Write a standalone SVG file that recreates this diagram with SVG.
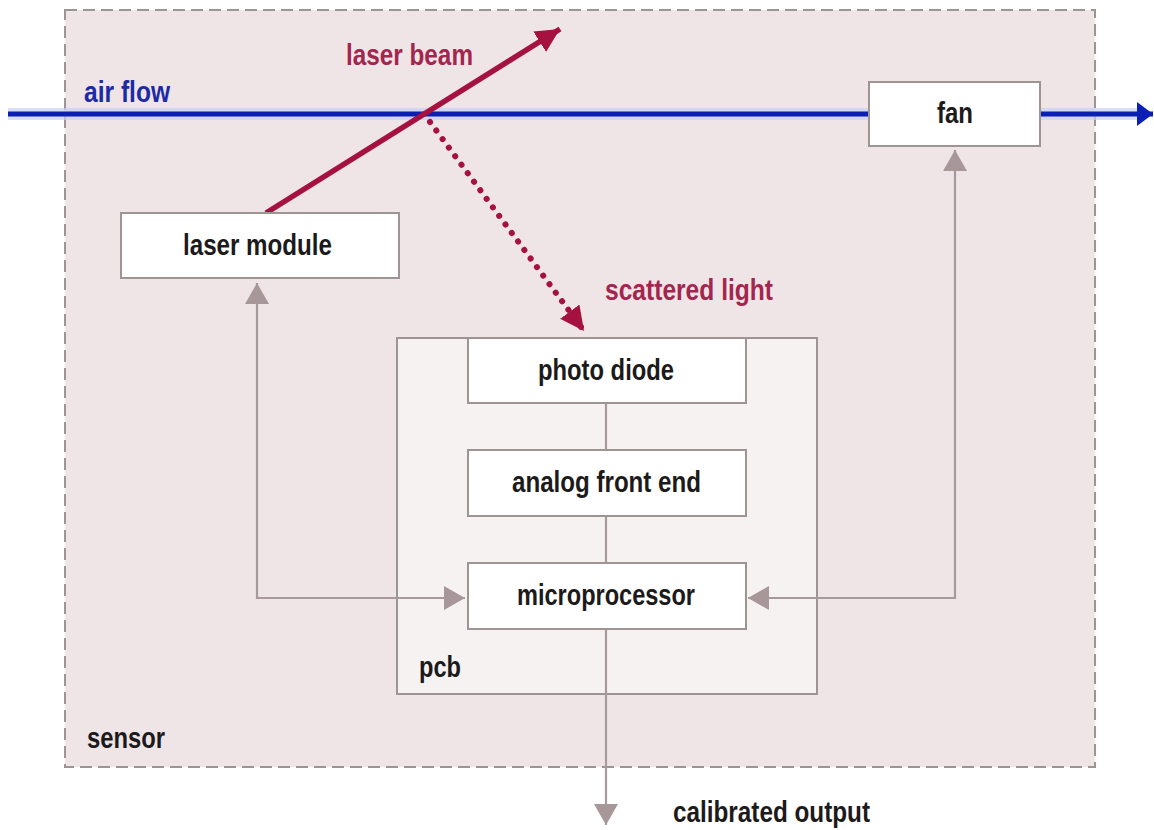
<svg xmlns="http://www.w3.org/2000/svg" width="1154" height="830" viewBox="0 0 1154 830">
  <style>
    text { font-family: "Liberation Sans", Arial, sans-serif; font-weight: bold; font-size: 29px; fill: #1c1a1a; }
    .box { fill: #ffffff; stroke: #9e9494; stroke-width: 2; }
    .conn { fill: none; stroke: #a89a9c; stroke-width: 2.2; }
    .red { fill: #a3264f; }
    .blue { fill: #1c2aa8; }
  </style>
  <defs>
    <marker id="gray" markerUnits="userSpaceOnUse" markerWidth="22" markerHeight="26" refX="21" refY="12" orient="auto-start-reverse">
      <path d="M0,0 L21,12 L0,24 z" fill="#a89799"/>
    </marker>
    <marker id="crim" markerUnits="userSpaceOnUse" markerWidth="26" markerHeight="26" refX="24" refY="12" orient="auto">
      <path d="M0,0 L24,12 L0,24 z" fill="#a5123f"/>
    </marker>
    <marker id="bluehead" markerUnits="userSpaceOnUse" markerWidth="18" markerHeight="26" refX="16" refY="12" orient="auto">
      <path d="M0,0 L16,12 L0,24 z" fill="#0b1fb4"/>
    </marker>
  </defs>

  <g id="sensor">
    <rect x="65" y="10" width="1030" height="757" fill="#efe5e7" stroke="#9c9494" stroke-width="2" stroke-dasharray="12 6"/>
    <text x="87" y="748" textLength="78" lengthAdjust="spacingAndGlyphs">sensor</text>
  </g>

  <g id="airflow">
    <line x1="8" y1="114" x2="869" y2="114" stroke="#c9cff2" stroke-width="12" opacity="0.7"/>
    <line x1="1040" y1="114" x2="1138" y2="114" stroke="#c9cff2" stroke-width="12" opacity="0.7"/>
    <line x1="8" y1="114" x2="869" y2="114" stroke="#0b1fb4" stroke-width="5"/>
    <line x1="1040" y1="114" x2="1153" y2="114" stroke="#0b1fb4" stroke-width="5" marker-end="url(#bluehead)"/>
    <text class="blue" x="84" y="102" textLength="86" lengthAdjust="spacingAndGlyphs">air flow</text>
  </g>

  <g id="pcb">
    <rect x="397" y="338" width="420" height="356" fill="#f7f2f2" stroke="#9e9494" stroke-width="2"/>
    <text x="419" y="677" textLength="42" lengthAdjust="spacingAndGlyphs">pcb</text>
  </g>

  <g id="connectors">
    <line x1="266" y1="213" x2="560" y2="29" stroke="#a5123f" stroke-width="5.5" marker-end="url(#crim)"/>
    <line x1="430" y1="122" x2="584" y2="331" stroke="#a5123f" stroke-width="6" stroke-dasharray="0.1 10.5" stroke-linecap="round" marker-end="url(#crim)"/>
    <line class="conn" x1="606" y1="403" x2="606" y2="450"/>
    <line class="conn" x1="606" y1="516" x2="606" y2="563"/>
    <path class="conn" d="M257,283 L257,598 L465,598" marker-start="url(#gray)" marker-end="url(#gray)"/>
    <path class="conn" d="M955,150 L955,598 L748,598" marker-start="url(#gray)" marker-end="url(#gray)"/>
    <line class="conn" x1="606" y1="629" x2="606" y2="825" marker-end="url(#gray)"/>
  </g>

  <g id="laser-module">
    <rect class="box" x="121" y="213" width="278" height="65"/>
    <text x="183" y="255" textLength="149" lengthAdjust="spacingAndGlyphs">laser module</text>
  </g>

  <g id="fan">
    <rect class="box" x="869" y="82" width="171" height="64"/>
    <text x="937" y="123" textLength="36" lengthAdjust="spacingAndGlyphs">fan</text>
  </g>

  <g id="photo-diode">
    <rect class="box" x="468" y="338" width="278" height="65"/>
    <text x="538" y="380" textLength="136" lengthAdjust="spacingAndGlyphs">photo diode</text>
  </g>

  <g id="analog-front-end">
    <rect class="box" x="468" y="450" width="278" height="66"/>
    <text x="512" y="492" textLength="189" lengthAdjust="spacingAndGlyphs">analog front end</text>
  </g>

  <g id="microprocessor">
    <rect class="box" x="468" y="563" width="278" height="66"/>
    <text x="517" y="605" textLength="178" lengthAdjust="spacingAndGlyphs">microprocessor</text>
  </g>

  <g id="labels">
    <text class="red" x="346" y="65" textLength="127" lengthAdjust="spacingAndGlyphs">laser beam</text>
    <text class="red" x="605" y="300" textLength="168" lengthAdjust="spacingAndGlyphs">scattered light</text>
    <text x="673" y="822" textLength="197" lengthAdjust="spacingAndGlyphs">calibrated output</text>
  </g>
</svg>
